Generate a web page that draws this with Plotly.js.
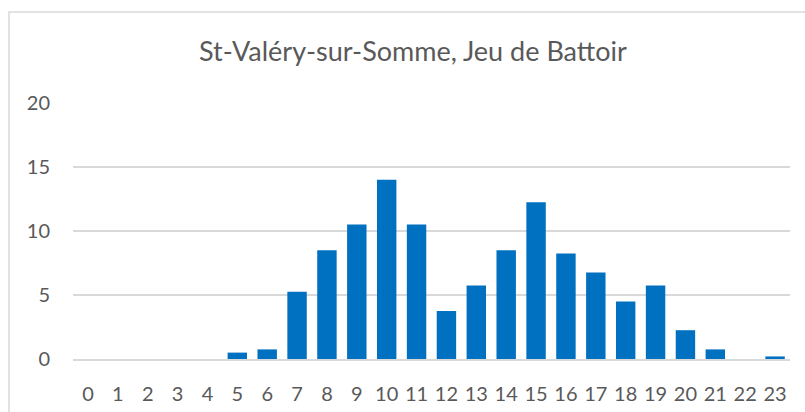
<!DOCTYPE html>
<html>
<head>
<meta charset="utf-8">
<script src="https://cdn.plot.ly/plotly-3.0.1.min.js"></script>
<style>
html,body{margin:0;padding:0;background:#fff;}
#chart{width:805px;height:412px;}
</style>
</head>
<body>
<div id="chart"></div>
<script>
var hours = ["0","1","2","3","4","5","6","7","8","9","10","11","12","13","14","15","16","17","18","19","20","21","22","23"];
var counts = [0,0,0,0,0,0.5,0.75,5.25,8.5,10.5,14,10.5,3.75,5.75,8.5,12.25,8.25,6.75,4.5,5.75,2.25,0.75,0,0.2];
var chartTitle = "St-Valéry-sur-Somme, Jeu de Battoir";
var yTicks = [0,5,10,15,20];

var trace = {
  type: "bar",
  x: hours,
  y: counts,
  marker: {color: "#0070C0", line: {width: 0}},
  hoverinfo: "x+y"
};

var layout = {
  width: 805, height: 412,
  margin: {l: 73, r: 15, t: 103, b: 53},
  paper_bgcolor: "#ffffff",
  plot_bgcolor: "#ffffff",
  font: {family: "Lato, 'Open Sans', sans-serif", color: "#595959"},
  title: {
    text: chartTitle,
    font: {family: "Lato, 'Open Sans', sans-serif", size: 27, color: "#595959"},
    xref: "container", yref: "container",
    x: 0.513, y: 0.874, xanchor: "center", yanchor: "middle"
  },
  bargap: 0.35,
  showlegend: false,
  xaxis: {
    type: "category",
    tickvals: hours,
    ticktext: hours,
    showgrid: false,
    showline: true,
    linecolor: "#d9d9d9",
    linewidth: 1.5,
    ticks: "outside",
    ticklen: 16,
    tickcolor: "rgba(0,0,0,0)",
    tickfont: {size: 20, color: "#595959"},
    fixedrange: true
  },
  yaxis: {
    range: [0, 20],
    tickvals: yTicks,
    ticktext: yTicks.map(String),
    showgrid: true,
    gridcolor: "#d9d9d9",
    gridwidth: 1.5,
    zeroline: false,
    showline: false,
    ticks: "outside",
    ticklen: 18,
    tickcolor: "rgba(0,0,0,0)",
    tickfont: {size: 20, color: "#595959"},
    fixedrange: true
  },
  shapes: [{
    type: "rect", xref: "paper", yref: "paper", layer: "below",
    x0: (9 - 73) / 717, x1: (830 - 73) / 717,
    y0: (359 - 440) / 256, y1: (359 - 12) / 256,
    line: {color: "#d9d9d9", width: 1.5},
    fillcolor: "rgba(0,0,0,0)"
  }]
};

Plotly.newPlot("chart", [trace], layout, {displayModeBar: false, staticPlot: true});
</script>
</body>
</html>
